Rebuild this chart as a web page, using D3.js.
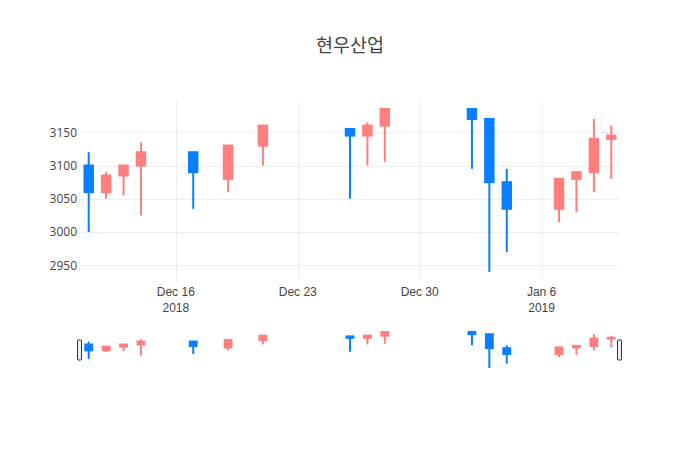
<!DOCTYPE html>
<html>
<head>
<meta charset="utf-8">
<script src="https://cdn.jsdelivr.net/npm/d3@7"></script>
<style>
  body { margin: 0; background: #fff; }
  svg { font-family: "Open Sans", "Noto Sans CJK KR", sans-serif; }
</style>
</head>
<body>
<svg id="chart"></svg>
<script>
// Daily prices
const dates  = ['2018-12-11','2018-12-12','2018-12-13','2018-12-14','2018-12-17','2018-12-19','2018-12-21',
                '2018-12-26','2018-12-27','2018-12-28','2019-01-02','2019-01-03','2019-01-04',
                '2019-01-07','2019-01-08','2019-01-09','2019-01-10'];
const opens  = [3100, 3060, 3085, 3100, 3120, 3080, 3130, 3155, 3145, 3160, 3185, 3170, 3075, 3035, 3080, 3090, 3140];
const highs  = [3120, 3090, 3100, 3135, 3120, 3130, 3160, 3155, 3165, 3185, 3185, 3170, 3095, 3080, 3090, 3170, 3160];
const lows   = [3000, 3050, 3055, 3025, 3035, 3060, 3100, 3050, 3100, 3105, 3095, 2940, 2970, 3015, 3030, 3060, 3080];
const closes = [3060, 3085, 3100, 3120, 3090, 3130, 3160, 3145, 3160, 3185, 3170, 3075, 3035, 3080, 3090, 3140, 3145];
const yTicks = [2950, 3000, 3050, 3100, 3150];
const title = '현우산업';

const incColor = '#ff7f7f';
const decColor = '#0a7fff';

const width = 700, height = 450;
const margin = { left: 80, right: 80, top: 100 };
const plotBottom = 281;
const sliderTop = 330, sliderBottom = 370;

const data = dates.map((d, i) => ({
    date: new Date(d + 'T00:00:00Z'),
    open: opens[i], high: highs[i], low: lows[i], close: closes[i]
}));

const svg = d3.select('#chart')
    .attr('width', width)
    .attr('height', height);

const day = 24 * 3600 * 1000;
const xScale = d3.scaleUtc()
    .domain([new Date(data[0].date - day / 2), new Date(+data[data.length - 1].date + day / 2)])
    .range([margin.left, width - margin.right]);

const yDomain = [2926.5, 3198.5];
const yScale = d3.scaleLinear()
    .domain(yDomain)
    .range([plotBottom, margin.top]);

const ySlider = d3.scaleLinear()
    .domain(yDomain)
    .range([sliderBottom, sliderTop]);

const dayPx = xScale(new Date(day)) - xScale(new Date(0));
const boxW = dayPx * 0.6;

// Title
svg.append('text')
    .attr('x', width / 2)
    .attr('y', 52)
    .attr('text-anchor', 'middle')
    .attr('font-size', 18.5)
    .attr('fill', '#444')
    .text(title);

// Gridlines
const weekTicks = d3.utcSunday.range(xScale.domain()[0], xScale.domain()[1]);

svg.append('g').selectAll('line')
    .data(yTicks)
    .join('line')
        .attr('x1', margin.left)
        .attr('x2', width - margin.right)
        .attr('y1', d => Math.round(yScale(d)) + 0.5)
        .attr('y2', d => Math.round(yScale(d)) + 0.5)
        .attr('stroke', '#eee');

svg.append('g').selectAll('line')
    .data(weekTicks)
    .join('line')
        .attr('x1', d => Math.round(xScale(d)) + 0.5)
        .attr('x2', d => Math.round(xScale(d)) + 0.5)
        .attr('y1', margin.top)
        .attr('y2', plotBottom)
        .attr('stroke', '#eee');

// Y axis
const yAxis = d3.axisLeft(yScale)
    .tickValues(yTicks)
    .tickSize(0)
    .tickPadding(3)
    .tickFormat(d3.format('d'));

const yAxisG = svg.append('g')
    .attr('transform', `translate(${margin.left},0)`)
    .call(yAxis);
yAxisG.select('.domain').remove();
yAxisG.selectAll('text')
    .attr('font-family', '"Open Sans", sans-serif')
    .attr('font-size', 12)
    .attr('fill', '#444');

// X axis with two-line labels
const fmtDay = d3.utcFormat('%b %-d');
const xAxisG = svg.append('g')
    .attr('transform', `translate(0,${plotBottom})`)
    .call(d3.axisBottom(xScale).tickValues(weekTicks).tickSize(0).tickFormat(''));
xAxisG.select('.domain').remove();
xAxisG.selectAll('.tick text').remove();

let lastYear = null;
weekTicks.forEach(t => {
    const txt = xAxisG.append('text')
        .attr('x', xScale(t))
        .attr('y', 15)
        .attr('text-anchor', 'middle')
        .attr('font-size', 12)
        .attr('fill', '#444');
    txt.append('tspan').attr('x', xScale(t)).text(fmtDay(t));
    const yr = t.getUTCFullYear();
    if (yr !== lastYear) {
        txt.append('tspan').attr('x', xScale(t)).attr('dy', 16).text(yr);
        lastYear = yr;
    }
});

// Candles
function drawCandles(g, ys, bw, wickW) {
    const c = g.selectAll('g')
        .data(data)
        .join('g')
        .attr('fill', d => d.close >= d.open ? incColor : decColor)
        .attr('stroke', d => d.close >= d.open ? incColor : decColor);

    c.append('line')
        .attr('x1', d => xScale(d.date))
        .attr('x2', d => xScale(d.date))
        .attr('y1', d => ys(d.high))
        .attr('y2', d => ys(d.low))
        .attr('stroke-width', wickW);

    c.append('rect')
        .attr('x', d => xScale(d.date) - bw / 2 + wickW / 2)
        .attr('width', bw - wickW)
        .attr('y', d => ys(Math.max(d.open, d.close)))
        .attr('height', d => Math.max(0.5, ys(Math.min(d.open, d.close)) - ys(Math.max(d.open, d.close))))
        .attr('stroke-width', wickW);
}

drawCandles(svg.append('g').attr('class', 'candles'), yScale, boxW, 2);

// Range slider
const slider = svg.append('g').attr('class', 'rangeslider');
slider.append('rect')
    .attr('x', margin.left)
    .attr('y', sliderTop)
    .attr('width', width - margin.left - margin.right)
    .attr('height', sliderBottom - sliderTop)
    .attr('fill', '#fff');

drawCandles(slider.append('g'), ySlider, boxW * 0.85, 2);

[margin.left, width - margin.right].forEach(x => {
    slider.append('rect')
        .attr('x', x - 2.5)
        .attr('y', (sliderTop + sliderBottom) / 2 - 10)
        .attr('width', 4)
        .attr('height', 20)
        .attr('rx', 1)
        .attr('fill', '#eee')
        .attr('stroke', '#333')
        .attr('stroke-width', 1);
});
</script>
</body>
</html>
